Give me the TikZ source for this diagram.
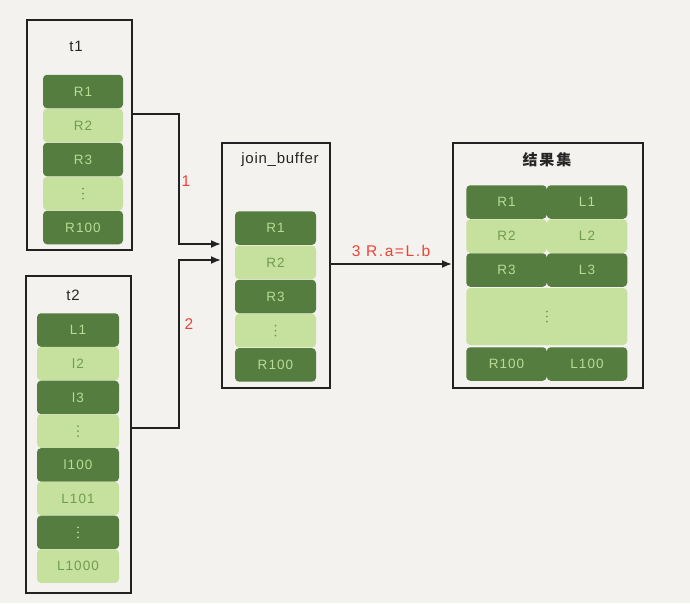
\documentclass[tikz,border=0pt]{standalone}
\usepackage{fontspec}
\setmainfont{Liberation Sans}
\newfontfamily\rowfont[LetterSpace=8]{Liberation Sans}
\newfontfamily\ttlfont[LetterSpace=5]{Liberation Sans}
\newfontfamily\lblfont[LetterSpace=10]{Liberation Sans}
\newfontfamily\cjk[LetterSpace=12]{Noto Sans CJK SC}
\usetikzlibrary{arrows.meta,calc}
\definecolor{bgc}{HTML}{F4F2EE}
\definecolor{dkg}{HTML}{547D3F}
\definecolor{ltg}{HTML}{C6E09E}
\definecolor{dkt}{HTML}{B9DB93}
\definecolor{ltt}{HTML}{6F9D4E}
\definecolor{redl}{HTML}{E8443A}
\definecolor{linec}{HTML}{222222}
\tikzset{
  tbox/.style={draw=linec,line width=2pt,fill=bgc,inner sep=0pt},
  drow/.style={fill=dkg,rounded corners=4pt,minimum height=33.5pt,inner sep=0pt,text=dkt,font=\rowfont\fontsize{13.5}{15}\selectfont},
  lrow/.style={fill=ltg,rounded corners=4pt,minimum height=33.5pt,inner sep=0pt,text=ltt,font=\rowfont\fontsize{13.5}{15}\selectfont},
  ttl/.style={text=black!85,font=\ttlfont\fontsize{15}{17}\selectfont},
  conn/.style={draw=linec,line width=1.8pt},
  arr/.style={conn,-{Latex[length=10pt,width=8pt]}},
  lbl/.style={text=redl,font=\lblfont\fontsize{15.5}{17}\selectfont},
  dotl/.style={fill=ltt},
  dotd/.style={fill=dkt}
}
\newcommand{\dotsat}[2]{\fill[#2] ([yshift=5pt]#1.center) circle (1pt) (#1.center) circle (1pt) ([yshift=-5pt]#1.center) circle (1pt);}
\begin{document}
\begin{tikzpicture}[x=1pt,y=-1pt]
\useasboundingbox[fill=bgc] (0,0) rectangle (690,603);
% boxes
\node[tbox,minimum width=105pt,minimum height=230pt] (t1) at (79.5,135) {};
\node[tbox,minimum width=105pt,minimum height=317pt] (t2) at (78.5,434.5) {};
\node[tbox,minimum width=108pt,minimum height=245pt] (jb) at (276,265.5) {};
\node[tbox,minimum width=190pt,minimum height=245pt] (res) at (548,265.5) {};
% titles
\node[ttl] (t1t) at (76,46) {t1};
\node[ttl] (t2t) at (73,295) {t2};
\node[ttl] (jbt) at (280,160) {join\_buffer};
\node[ttl] (rest) at (547,160) {\cjk\bfseries\fontsize{15}{17}\selectfont 结果集};
% t1 rows
\node[drow,minimum width=80pt] (a1) at (83,91.5) {R1};
\node[lrow,minimum width=80pt] (a2) at (83,125.5) {R2};
\node[drow,minimum width=80pt] (a3) at (83,159.5) {R3};
\node[lrow,minimum width=80pt] (a4) at (83,193.5) {};
\node[drow,minimum width=80pt] (a5) at (83,227.5) {R100};
% t2 rows
\node[drow,minimum width=82pt] (b1) at (78,330) {L1};
\node[lrow,minimum width=82pt] (b2) at (78,363.6) {l2};
\node[drow,minimum width=82pt] (b3) at (78,397.4) {l3};
\node[lrow,minimum width=82pt] (b4) at (78,431.1) {};
\node[drow,minimum width=82pt] (b5) at (78,464.9) {l100};
\node[lrow,minimum width=82pt] (b6) at (78,498.6) {L101};
\node[drow,minimum width=82pt] (b7) at (78,532.4) {};
\node[lrow,minimum width=82pt] (b8) at (78,566.1) {L1000};
% join buffer rows
\node[drow,minimum width=81pt] (c1) at (275.5,228.1) {R1};
\node[lrow,minimum width=81pt] (c2) at (275.5,262.3) {R2};
\node[drow,minimum width=81pt] (c3) at (275.5,296.5) {R3};
\node[lrow,minimum width=81pt] (c4) at (275.5,330.7) {};
\node[drow,minimum width=81pt] (c5) at (275.5,364.9) {R100};
% result rows
\node[drow,minimum width=80.5pt] (d1) at (506.5,202) {R1};
\node[drow,minimum width=80.5pt] (e1) at (587,202) {L1};
\node[lrow,minimum width=80.5pt] (d2) at (506.5,236) {R2};
\node[lrow,minimum width=80.5pt] (e2) at (587,236) {L2};
\node[drow,minimum width=80.5pt] (d3) at (506.5,270) {R3};
\node[drow,minimum width=80.5pt] (e3) at (587,270) {L3};
\node[lrow,minimum width=161pt,minimum height=57pt] (d4) at (546.75,316.5) {};
\node[drow,minimum width=80.5pt] (d5) at (506.5,364) {R100};
\node[drow,minimum width=80.5pt] (e5) at (587,364) {L100};
% vertical dots
\dotsat{a4}{dotl}
\dotsat{b4}{dotl}
\dotsat{b7}{dotd}
\dotsat{c4}{dotl}
\dotsat{d4}{dotl}
% connectors
\draw[arr] ([yshift=-95pt]t1.north east) -- ++(46pt,0) |- ([yshift=-102pt]jb.north west);
\draw[arr] ([yshift=-153pt]t2.north east) -- ++(47pt,0) |- ([yshift=-118pt]jb.north west);
\draw[arr] ([yshift=-122pt]jb.north east) -- ([yshift=-122pt]res.north west);
% labels
\node[lbl] (l1) at (186,181) {1};
\node[lbl] (l2) at (189,324) {2};
\node[lbl] (l3) at (391,251) {3 R.a=L.b};
\end{tikzpicture}
\end{document}
